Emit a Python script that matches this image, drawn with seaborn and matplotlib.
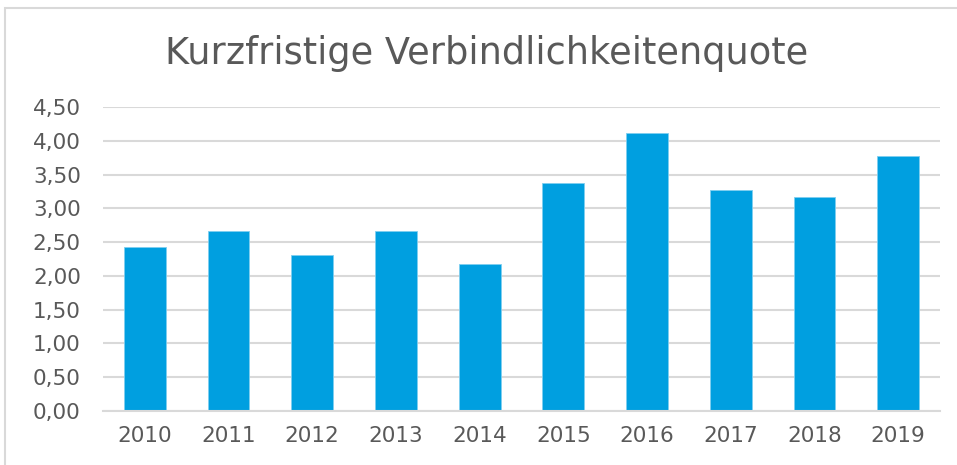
import matplotlib
matplotlib.use("Agg")
import matplotlib.pyplot as plt
import seaborn as sns
import pandas as pd
from matplotlib.ticker import FuncFormatter, MultipleLocator
from matplotlib.patches import Rectangle

years = ["2010", "2011", "2012", "2013", "2014", "2015", "2016", "2017", "2018", "2019"]
quote = [2.43, 2.66, 2.31, 2.66, 2.18, 3.38, 4.12, 3.27, 3.17, 3.78]
title = "Kurzfristige Verbindlichkeitenquote"

sns.set_theme(style="white")
plt.rcParams["font.family"] = ["DejaVu Sans"]

df = pd.DataFrame({"Jahr": years, "Quote": quote})

fig = plt.figure(figsize=(9.57, 4.65), dpi=100)
ax = fig.add_axes([103/957, 1-411/465, (940-103)/957, (411-107)/465])

sns.barplot(data=df, x="Jahr", y="Quote", color="#009FE0", saturation=1,
            width=0.5, ax=ax, edgecolor="#7fcff0", linewidth=0.6)

ax.set_ylim(0, 4.5)
ax.set_xlim(-0.5, 9.5)
ax.yaxis.set_major_locator(MultipleLocator(0.5))
ax.yaxis.set_major_formatter(FuncFormatter(lambda v, p: f"{v:.2f}".replace(".", ",")))
ax.grid(axis="y", color="#d9d9d9", linewidth=1.5)
ax.set_axisbelow(True)
for s in ["top", "right", "left"]:
    ax.spines[s].set_visible(False)
ax.spines["bottom"].set_color("#d9d9d9")
ax.spines["bottom"].set_linewidth(1.5)
ax.set_xlabel("")
ax.set_ylabel("")
ax.tick_params(axis="both", length=0, labelsize=15.5, labelcolor="#595959")
ax.tick_params(axis="y", pad=16)
ax.tick_params(axis="x", pad=11)

fig.text(487/957, 1-54/465, title, ha="center", va="center", fontsize=26.5, color="#595959")

fig.patches.append(Rectangle((5/957, -0.1), 1.2, 1-8/465+0.1, transform=fig.transFigure,
                             fill=False, edgecolor="#d9d9d9", linewidth=1.5))

fig.savefig("out.png", dpi=100)
